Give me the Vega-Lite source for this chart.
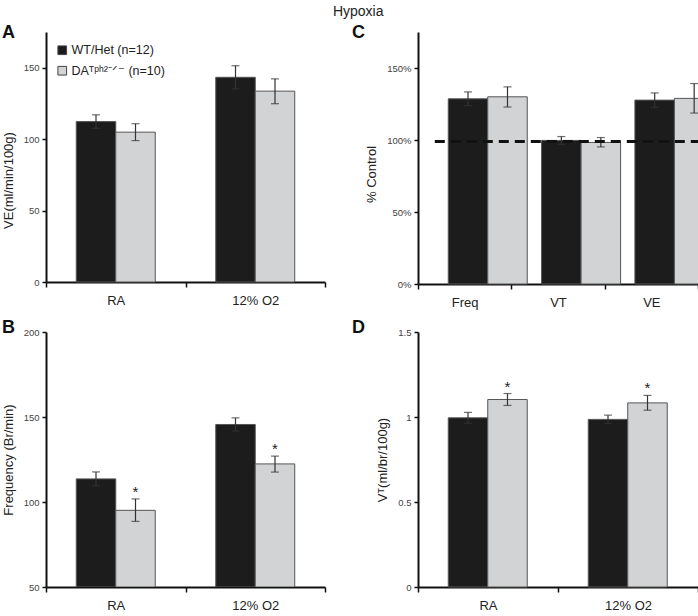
{
  "$schema": "https://vega.github.io/schema/vega-lite/v6.json",
  "padding": {"left": 2, "top": 5, "right": 0, "bottom": 0},
  "background": "white",
  "title": {"text": "Hypoxia", "anchor": "middle", "frame": "bounds", "fontSize": 14, "fontWeight": "normal", "color": "#222", "offset": 5},
  "config": {
    "font": "Liberation Sans",
    "view": {"stroke": null},
    "axis": {"domainColor": "#111", "domainWidth": 2, "tickColor": "#111", "tickWidth": 1.5, "grid": false, "labelColor": "#444", "titleColor": "#222", "titleFontWeight": "normal", "titleFontSize": 13, "titleFont": "Liberation Sans", "labelFont": "Liberation Sans"},
    "axisY": {"tickSize": 4, "labelFontSize": 9.5, "labelPadding": 3, "titlePadding": 8},
    "axisX": {"tickSize": 5, "labelFontSize": 13, "labelColor": "#222", "labelPadding": 7, "tickBand": "extent", "labelAngle": 0, "title": null},
    "legend": {"labelFont": "Liberation Sans"}
  },
  "datasets": {
    "A": [
      {"cat": "RA", "grp": "WT/Het (n=12)", "mean": 112.3, "lo": 107.6, "hi": 117.0, "sig": ""},
      {"cat": "RA", "grp": "DAᵀᵖʰ²⁻ᐟ⁻ (n=10)", "mean": 104.9, "lo": 99.0, "hi": 110.8, "sig": ""},
      {"cat": "12% O2", "grp": "WT/Het (n=12)", "mean": 143.3, "lo": 135.2, "hi": 151.4, "sig": ""},
      {"cat": "12% O2", "grp": "DAᵀᵖʰ²⁻ᐟ⁻ (n=10)", "mean": 133.6, "lo": 124.8, "hi": 142.2, "sig": ""}
    ],
    "B": [
      {"cat": "RA", "grp": "WT/Het (n=12)", "mean": 113.6, "lo": 109.5, "hi": 117.7, "sig": ""},
      {"cat": "RA", "grp": "DAᵀᵖʰ²⁻ᐟ⁻ (n=10)", "mean": 95.1, "lo": 88.6, "hi": 101.8, "sig": "*"},
      {"cat": "12% O2", "grp": "WT/Het (n=12)", "mean": 145.6, "lo": 141.7, "hi": 149.5, "sig": ""},
      {"cat": "12% O2", "grp": "DAᵀᵖʰ²⁻ᐟ⁻ (n=10)", "mean": 122.4, "lo": 117.6, "hi": 127.0, "sig": "*"}
    ],
    "C": [
      {"cat": "Freq", "grp": "WT/Het (n=12)", "mean": 1.286, "lo": 1.238, "hi": 1.334, "sig": ""},
      {"cat": "Freq", "grp": "DAᵀᵖʰ²⁻ᐟ⁻ (n=10)", "mean": 1.300, "lo": 1.229, "hi": 1.369, "sig": ""},
      {"cat": "VT", "grp": "WT/Het (n=12)", "mean": 0.997, "lo": 0.970, "hi": 1.024, "sig": ""},
      {"cat": "VT", "grp": "DAᵀᵖʰ²⁻ᐟ⁻ (n=10)", "mean": 0.983, "lo": 0.952, "hi": 1.017, "sig": ""},
      {"cat": "VE", "grp": "WT/Het (n=12)", "mean": 1.277, "lo": 1.227, "hi": 1.327, "sig": ""},
      {"cat": "VE", "grp": "DAᵀᵖʰ²⁻ᐟ⁻ (n=10)", "mean": 1.289, "lo": 1.187, "hi": 1.392, "sig": ""}
    ],
    "Cref": [{"ref": 0.99, "from": "Freq", "to": "VE"}],
    "D": [
      {"cat": "RA", "grp": "WT/Het (n=12)", "mean": 0.995, "lo": 0.963, "hi": 1.027, "sig": ""},
      {"cat": "RA", "grp": "DAᵀᵖʰ²⁻ᐟ⁻ (n=10)", "mean": 1.103, "lo": 1.068, "hi": 1.138, "sig": "*"},
      {"cat": "12% O2", "grp": "WT/Het (n=12)", "mean": 0.986, "lo": 0.961, "hi": 1.011, "sig": ""},
      {"cat": "12% O2", "grp": "DAᵀᵖʰ²⁻ᐟ⁻ (n=10)", "mean": 1.083, "lo": 1.040, "hi": 1.127, "sig": "*"}
    ]
  },
  "bounds": "flush",
  "columns": 2,
  "spacing": {"row": 48, "column": 93},
  "resolve": {"scale": {"color": "independent"}},
  "concat": [
        {
          "width": 279, "height": 250,
          "title": {"text": "A", "anchor": "start", "frame": "group", "dx": -44, "dy": 24, "offset": 0, "baseline": "alphabetic", "fontSize": 18, "fontWeight": "bold", "color": "#111"},
          "data": {"name": "A"},
          "encoding": {
            "x": {"field": "cat", "type": "nominal", "sort": ["RA", "12% O2"], "scale": {"paddingInner": 0, "paddingOuter": 0}},
            "xOffset": {"field": "grp", "type": "nominal", "sort": ["WT/Het (n=12)", "DAᵀᵖʰ²⁻ᐟ⁻ (n=10)"], "scale": {"paddingInner": 0, "paddingOuter": 0.766}}
          },
          "layer": [
            {
              "mark": {"type": "bar", "stroke": "#555", "strokeWidth": 1},
              "encoding": {
                "y": {"field": "mean", "type": "quantitative", "scale": {"domain": [0, 175], "nice": false}, "axis": {"values": [0, 50, 100, 150], "title": "VE(ml/min/100g)", "titleY": 148}},
                "color": {"field": "grp", "type": "nominal", "sort": ["WT/Het (n=12)", "DAᵀᵖʰ²⁻ᐟ⁻ (n=10)"], "scale": {"range": ["#1c1c1c", "#d1d3d4"]},
                  "legend": {"title": null, "orient": "none", "legendX": 10, "legendY": 12, "symbolType": "square", "symbolSize": 75, "symbolStrokeColor": "#444", "symbolStrokeWidth": 1, "symbolOpacity": 1, "labelFontSize": 12.5, "labelColor": "#222", "rowPadding": 6.5, "labelOffset": 3}}
              }
            },
            {"mark": {"type": "rule", "color": "#333", "strokeWidth": 1.2}, "encoding": {"y": {"field": "lo", "type": "quantitative"}, "y2": {"field": "hi"}}},
            {"mark": {"type": "tick", "color": "#333", "thickness": 1.2, "size": 8, "orient": "horizontal"}, "encoding": {"y": {"field": "hi", "type": "quantitative"}}},
            {"mark": {"type": "tick", "color": "#333", "thickness": 1.2, "size": 8, "orient": "horizontal"}, "encoding": {"y": {"field": "lo", "type": "quantitative"}}}
          ]
        },
        {
          "width": 280, "height": 252,
          "title": {"text": "C", "anchor": "start", "frame": "group", "dx": -66, "dy": 24, "offset": 0, "baseline": "alphabetic", "fontSize": 18, "fontWeight": "bold", "color": "#111"},
          "layer": [
            {
              "data": {"name": "C"},
              "encoding": {
                "x": {"field": "cat", "type": "nominal", "scale": {"domain": ["Freq", "VT", "VE"], "paddingInner": 0, "paddingOuter": 0}},
                "xOffset": {"field": "grp", "type": "nominal", "sort": ["WT/Het (n=12)", "DAᵀᵖʰ²⁻ᐟ⁻ (n=10)"], "scale": {"paddingInner": 0, "paddingOuter": 0.728}}
              },
              "layer": [
                {
                  "mark": {"type": "bar", "stroke": "#555", "strokeWidth": 1},
                  "encoding": {
                    "y": {"field": "mean", "type": "quantitative", "scale": {"domain": [0, 1.75], "nice": false}, "axis": {"values": [0, 0.5, 1, 1.5], "format": ".0%", "title": "% Control", "titleY": 142}},
                    "color": {"field": "grp", "type": "nominal", "sort": ["WT/Het (n=12)", "DAᵀᵖʰ²⁻ᐟ⁻ (n=10)"], "scale": {"range": ["#1c1c1c", "#d1d3d4"]}, "legend": null}
                  }
                },
                {"mark": {"type": "rule", "color": "#333", "strokeWidth": 1.2}, "encoding": {"y": {"field": "lo", "type": "quantitative"}, "y2": {"field": "hi"}}},
                {"mark": {"type": "tick", "color": "#333", "thickness": 1.2, "size": 8, "orient": "horizontal"}, "encoding": {"y": {"field": "hi", "type": "quantitative"}}},
                {"mark": {"type": "tick", "color": "#333", "thickness": 1.2, "size": 8, "orient": "horizontal"}, "encoding": {"y": {"field": "lo", "type": "quantitative"}}}
              ]
            },
            {
              "data": {"name": "Cref"},
              "mark": {"type": "rule", "color": "#111", "strokeWidth": 3, "strokeDash": [10, 6]},
              "encoding": {
                "y": {"field": "ref", "type": "quantitative"},
                "x": {"field": "from", "type": "nominal", "bandPosition": 0.18},
                "x2": {"field": "to", "bandPosition": 1}
              }
            }
          ]
        },
        {
          "width": 279, "height": 255,
          "title": {"text": "B", "anchor": "start", "frame": "group", "dx": -44, "dy": 24, "offset": 0, "baseline": "alphabetic", "fontSize": 18, "fontWeight": "bold", "color": "#111"},
          "data": {"name": "B"},
          "encoding": {
            "x": {"field": "cat", "type": "nominal", "sort": ["RA", "12% O2"], "scale": {"paddingInner": 0, "paddingOuter": 0}},
            "xOffset": {"field": "grp", "type": "nominal", "sort": ["WT/Het (n=12)", "DAᵀᵖʰ²⁻ᐟ⁻ (n=10)"], "scale": {"paddingInner": 0, "paddingOuter": 0.766}}
          },
          "layer": [
            {
              "mark": {"type": "bar", "stroke": "#555", "strokeWidth": 1, "clip": true},
              "encoding": {
                "y": {"field": "mean", "type": "quantitative", "scale": {"domain": [50, 200], "nice": false, "zero": false}, "axis": {"values": [50, 100, 150, 200], "title": "Frequency (Br/min)"}},
                "y2": {"datum": 50},
                "color": {"field": "grp", "type": "nominal", "sort": ["WT/Het (n=12)", "DAᵀᵖʰ²⁻ᐟ⁻ (n=10)"], "scale": {"range": ["#1c1c1c", "#d1d3d4"]}, "legend": null}
              }
            },
            {"mark": {"type": "rule", "color": "#333", "strokeWidth": 1.2}, "encoding": {"y": {"field": "lo", "type": "quantitative"}, "y2": {"field": "hi"}}},
            {"mark": {"type": "tick", "color": "#333", "thickness": 1.2, "size": 8, "orient": "horizontal"}, "encoding": {"y": {"field": "hi", "type": "quantitative"}}},
            {"mark": {"type": "tick", "color": "#333", "thickness": 1.2, "size": 8, "orient": "horizontal"}, "encoding": {"y": {"field": "lo", "type": "quantitative"}}},
            {"mark": {"type": "text", "fontSize": 15, "color": "#222", "baseline": "alphabetic", "dy": -2}, "encoding": {"y": {"field": "hi", "type": "quantitative"}, "text": {"field": "sig"}}}
          ]
        },
        {
          "width": 280, "height": 255,
          "title": {"text": "D", "anchor": "start", "frame": "group", "dx": -66, "dy": 24, "offset": 0, "baseline": "alphabetic", "fontSize": 18, "fontWeight": "bold", "color": "#111"},
          "data": {"name": "D"},
          "encoding": {
            "x": {"field": "cat", "type": "nominal", "sort": ["RA", "12% O2"], "scale": {"paddingInner": 0, "paddingOuter": 0}},
            "xOffset": {"field": "grp", "type": "nominal", "sort": ["WT/Het (n=12)", "DAᵀᵖʰ²⁻ᐟ⁻ (n=10)"], "scale": {"paddingInner": 0, "paddingOuter": 0.75}}
          },
          "layer": [
            {
              "mark": {"type": "bar", "stroke": "#555", "strokeWidth": 1},
              "encoding": {
                "y": {"field": "mean", "type": "quantitative", "scale": {"domain": [0, 1.5], "nice": false}, "axis": {"values": [0, 0.5, 1, 1.5], "format": "~g", "title": "Vᵀ(ml/br/100g)"}},
                "color": {"field": "grp", "type": "nominal", "sort": ["WT/Het (n=12)", "DAᵀᵖʰ²⁻ᐟ⁻ (n=10)"], "scale": {"range": ["#1c1c1c", "#d1d3d4"]}, "legend": null}
              }
            },
            {"mark": {"type": "rule", "color": "#333", "strokeWidth": 1.2}, "encoding": {"y": {"field": "lo", "type": "quantitative"}, "y2": {"field": "hi"}}},
            {"mark": {"type": "tick", "color": "#333", "thickness": 1.2, "size": 8, "orient": "horizontal"}, "encoding": {"y": {"field": "hi", "type": "quantitative"}}},
            {"mark": {"type": "tick", "color": "#333", "thickness": 1.2, "size": 8, "orient": "horizontal"}, "encoding": {"y": {"field": "lo", "type": "quantitative"}}},
            {"mark": {"type": "text", "fontSize": 15, "color": "#222", "baseline": "alphabetic", "dy": -2}, "encoding": {"y": {"field": "hi", "type": "quantitative"}, "text": {"field": "sig"}}}
          ]
        }
  ]
}
